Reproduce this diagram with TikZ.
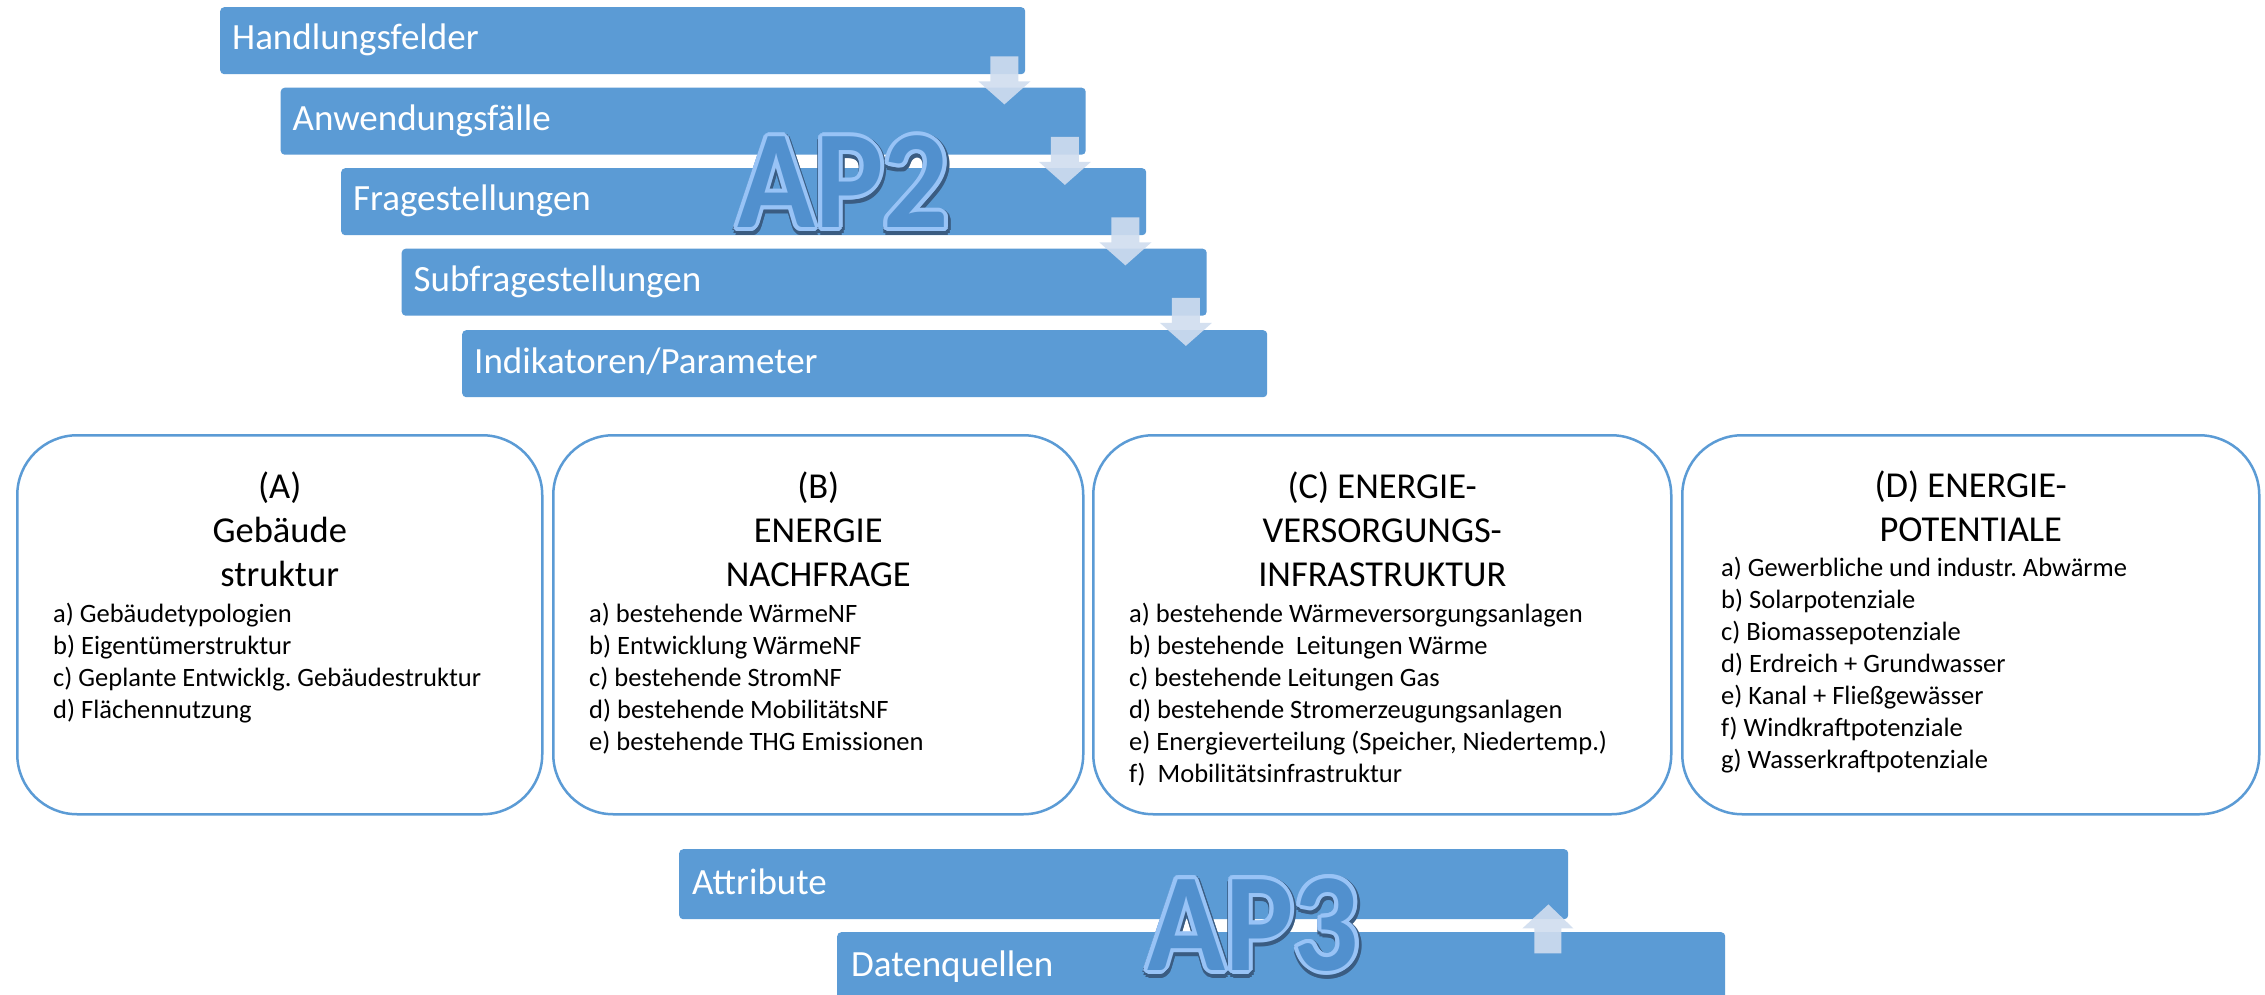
\documentclass[tikz,border=0pt]{standalone}
\usepackage{fontspec}
\setmainfont{Carlito}
\usetikzlibrary{calc}
\frenchspacing
\definecolor{barblue}{HTML}{5B9BD5}
\definecolor{arrowfill}{HTML}{D0DDEF}
\definecolor{apfill}{HTML}{5190CE}
\definecolor{apline}{HTML}{98C3F6}
\definecolor{apshadow}{HTML}{3A5C82}
\newcommand\apLabel[3]{%
  \foreach \ang [count=\k] in {0,30,...,330}
    \node[apshade] (#1-s\k) at ($(#2)+(\ang:5.5)+(1,2.5)$) {\scalebox{0.92}[1]{#3}};
  \foreach \ang [count=\k] in {0,22.5,...,337.5}
    \node[apoutline] (#1-o\k) at ($(#2)+(\ang:4)$) {\scalebox{0.92}[1]{#3}};
  \node[apmain] (#1) at (#2) {\scalebox{0.92}[1]{#3}};
}
\newcommand\downBlock[1]{%
  \begin{scope}[shift={(#1.south east)}]
    \fill[blockarrow] (-35,-18) -- (-7,-18) -- (-7,7) -- (5,7) -- (-21,30) -- (-47,7) -- (-35,7) -- cycle;
  \end{scope}
}
\begin{document}
\begin{tikzpicture}[x=1pt,y=-1pt,
  bar/.style={fill=barblue, draw=none, rounded corners=4pt, minimum width=805pt, minimum height=67pt, anchor=north west, inner sep=0pt},
  bartext/.style={text=white, font=\fontsize{37}{44}\selectfont, anchor=base west, inner sep=0pt},
  catbox/.style={draw=barblue, line width=2.5pt, rounded corners=60pt, fill=white, anchor=north west, inner sep=0pt, minimum height=379pt},
  cattitle/.style={font=\fontsize{36.5}{44}\selectfont, anchor=base, inner sep=0pt},
  catlist/.style={font=\fontsize{26.5}{32}\selectfont, anchor=base west, inner sep=0pt},
  blockarrow/.style={fill=arrowfill, fill opacity=0.9, draw=none},
  apbase/.style={font=\fontsize{140}{150}\selectfont\bfseries, anchor=base, inner sep=0pt},
  apshade/.style={apbase, text=apshadow},
  apoutline/.style={apbase, text=apline},
  apmain/.style={apbase, text=apfill},
]
\useasboundingbox (0,0) rectangle (2265,995);
\clip (0,0) rectangle (2265,995);
\fill[white] (0,0) rectangle (2265,995);

% ---- AP2 stack
\node[bar] (b1) at (220,7) {};
\node[bar] (b2) at (280.5,87.5) {};
\node[bar] (b3) at (341,168) {};
\node[bar] (b4) at (401.5,248.5) {};
\node[bar] (b5) at (462,330) {};
\node[bartext] (t1) at ($(b1.north west)+(12,43)$) {Handlungsfelder};
\node[bartext] (t2) at ($(b2.north west)+(12,43)$) {Anwendungsfälle};
\node[bartext] (t3) at ($(b3.north west)+(12,43)$) {Fragestellungen};
\node[bartext] (t4) at ($(b4.north west)+(12,43)$) {Subfragestellungen};
\node[bartext] (t5) at ($(b5.north west)+(12,43)$) {Indikatoren/Parameter};
\downBlock{b1}
\downBlock{b2}
\downBlock{b3}
\downBlock{b4}
\coordinate (ap2pos) at (843,228);
\apLabel{ap2}{ap2pos}{AP2}

% ---- category boxes
\node[catbox, minimum width=525pt] (boxA) at (16,434) {};
\node[catbox, minimum width=530pt] (boxB) at (552,434) {};
\node[catbox, minimum width=578pt] (boxC) at (1092,434) {};
\node[catbox, minimum width=577pt] (boxD) at (1681,434) {};

\node[cattitle] (A1) at ($(boxA.north)+(0,64)$) {(A)};
\node[cattitle] (A2) at ($(boxA.north)+(0,108)$) {Gebäude};
\node[cattitle] (A3) at ($(boxA.north)+(0,152)$) {struktur};
\foreach \t [count=\i from 0] in {a) Gebäudetypologien, b) Eigentümerstruktur, c) Geplante Entwicklg. Gebäudestruktur, d) Flächennutzung}
  \node[catlist] (Al\i) at (53,622+32*\i) {\t};

\node[cattitle] (B1) at ($(boxB.north)+(0,64)$) {(B)};
\node[cattitle] (B2) at ($(boxB.north)+(0,108)$) {ENERGIE};
\node[cattitle] (B3) at ($(boxB.north)+(0,152)$) {NACHFRAGE};
\foreach \t [count=\i from 0] in {a) bestehende WärmeNF, b) Entwicklung WärmeNF, c) bestehende StromNF, d) bestehende MobilitätsNF, e) bestehende THG Emissionen}
  \node[catlist] (Bl\i) at (589,622+32*\i) {\t};

\node[cattitle] (C1) at ($(boxC.north)+(0,64)$) {(C) ENERGIE-};
\node[cattitle] (C2) at ($(boxC.north)+(0,108)$) {VERSORGUNGS-};
\node[cattitle] (C3) at ($(boxC.north)+(0,152)$) {INFRASTRUKTUR};
\foreach \t [count=\i from 0] in {a) bestehende Wärmeversorgungsanlagen, b) bestehende\ \ Leitungen Wärme, c) bestehende Leitungen Gas, d) bestehende Stromerzeugungsanlagen, {e) Energieverteilung (Speicher, Niedertemp.)}, f)\ \ Mobilitätsinfrastruktur}
  \node[catlist] (Cl\i) at (1129,622+32*\i) {\t};

\node[cattitle] (D1) at ($(boxD.north)+(0,63)$) {(D) ENERGIE-};
\node[cattitle] (D2) at ($(boxD.north)+(0,107)$) {POTENTIALE};
\foreach \t [count=\i from 0] in {a) Gewerbliche und industr. Abwärme, b) Solarpotenziale, c) Biomassepotenziale, d) Erdreich + Grundwasser, e) Kanal + Fließgewässer, f) Windkraftpotenziale, g) Wasserkraftpotenziale}
  \node[catlist] (Dl\i) at (1721,576+32*\i) {\t};

% ---- AP3 stack
\node[bar, minimum width=889pt, minimum height=70pt] (c1) at (679,849) {};
\node[bar, minimum width=888pt, minimum height=70pt] (c2) at (837,932) {};
\node[bartext] (u1) at ($(c1.north west)+(13,45)$) {Attribute};
\node[bartext] (u2) at ($(c2.north west)+(14,44)$) {Datenquellen};
\begin{scope}[shift={(c1.south east)}]
  \fill[blockarrow] (-34,34) -- (-7,34) -- (-7,9) -- (5,9) -- (-20,-15) -- (-46,9) -- (-34,9) -- cycle;
\end{scope}
\coordinate (ap3pos) at (1253,970);
\apLabel{ap3}{ap3pos}{AP3}
\end{tikzpicture}
\end{document}
